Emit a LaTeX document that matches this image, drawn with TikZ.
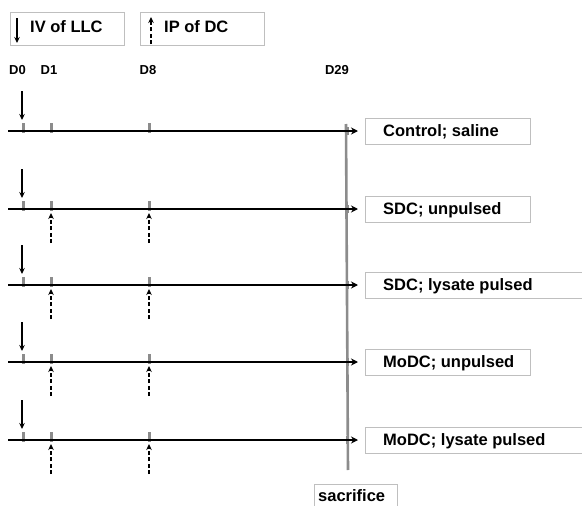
\documentclass[tikz,border=0pt]{standalone}
\usepackage{fontspec}
\setmainfont{Liberation Sans}
\usetikzlibrary{arrows.meta}

\tikzset{
	lbl/.style={font=\bfseries\fontsize{16.5}{18}\selectfont, anchor=west, inner sep=0pt,
		text height=11.8pt, text depth=0pt},
	daylbl/.style={font=\bfseries\fontsize{13}{15}\selectfont},
	grpbox/.style={draw=black!25, line width=0.8pt, anchor=west, inner sep=0pt, minimum height=26pt},
	tl/.style={line width=1.6pt, -{Stealth[length=7pt,width=7pt]}},
	iv/.style={line width=1.6pt, -{Stealth[length=6pt,width=5.5pt]}},
	ip/.style={line width=1.6pt, dash pattern=on 4pt off 2.5pt, -{Stealth[length=6pt,width=5.5pt]}},
	tick/.style={fill=black!45}
}

\begin{document}
\begin{tikzpicture}[x=1pt, y=-1pt]
	\useasboundingbox (0,0) rectangle (582,506);
	% legend
	\node (ivkey) [grpbox, minimum width=114pt, minimum height=33pt] at (10,28.5) {};
	\node (ipkey) [grpbox, minimum width=124pt, minimum height=33pt] at (140,28.5) {};
	\node (ivtxt) [lbl] at (30,27) {IV of LLC};
	\node (iptxt) [lbl] at (164,27) {IP of DC};
	\coordinate (ivt) at (17,18); \coordinate (ivh) at (17,43);
	\coordinate (ipt) at (151,44); \coordinate (iph) at (151,17);
	\draw[iv] (ivt) -- (ivh);
	\draw[ip] (ipt) -- (iph);
	% days
	\node (D0) [daylbl] at (17.5,70) {D0};
	\node (D1) [daylbl] at (49,70) {D1};
	\node (D8) [daylbl] at (148,70) {D8};
	\node (D29) [daylbl] at (337,70) {D29};
	% sacrifice line
	\coordinate (sacTop) at (346,124);
	\coordinate (sacBot) at (348,470);
	\draw[line width=2.6pt, black!45] (sacTop) -- (sacBot);
	\node (sacbox) [grpbox, minimum width=83pt, minimum height=26pt] at (314,497) {};
	\node (sac) [lbl] at (318,496) {sacrifice};
	% groups
	\foreach \y/\name/\txt/\bw/\dc in {131/ctrl/{Control; saline}/165/0,
		209/sdcu/{SDC; unpulsed}/165/1,
		285/sdcl/{SDC; lysate pulsed}/226/1,
		362/modu/{MoDC; unpulsed}/165/1,
		440/modl/{MoDC; lysate pulsed}/226/1}{
		\fill[tick] (21.5,\y-8) rectangle (24.5,\y+2);
		\fill[tick] (49.5,\y-8) rectangle (52.5,\y+2);
		\fill[tick] (147.5,\y-8) rectangle (150.5,\y+2);
		\fill[tick] (345.5,\y-4) rectangle (348.5,\y+4);
		\coordinate (\name-s) at (8,\y);
		\coordinate (\name-e) at (358,\y);
		\draw[tl] (\name-s) -- (\name-e);
		\node (\name) [grpbox, minimum width=\bw pt] at (365,\y) {};
		\node (\name-txt) [lbl] at (383,\y) {\txt};
		\coordinate (\name-a) at (22,\y-40);
		\coordinate (\name-b) at (22,\y-11);
		\draw[iv] (\name-a) -- (\name-b);
		\ifnum\dc=1
			\coordinate (\name-p1) at (51,\y+34);
			\coordinate (\name-q1) at (51,\y+4);
			\coordinate (\name-p8) at (149,\y+34);
			\coordinate (\name-q8) at (149,\y+4);
			\draw[ip] (\name-p1) -- (\name-q1);
			\draw[ip] (\name-p8) -- (\name-q8);
		\fi
	}
\end{tikzpicture}
\end{document}
